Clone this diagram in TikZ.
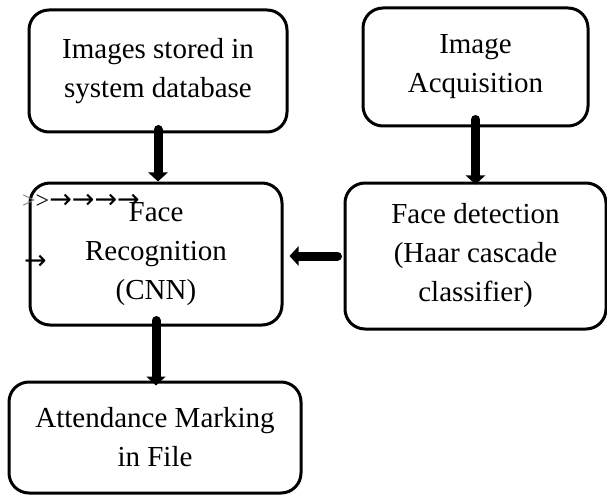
\documentclass[tikz,border=0pt]{standalone}
\usepackage{fontspec}
\setmainfont{Liberation Serif}
\newfontfamily\arrowfont{DejaVu Sans}
\usetikzlibrary{arrows.meta}
\begin{document}
\begin{tikzpicture}[x=1pt,y=-1pt,
  box/.style={draw=black, line width=3pt, rounded corners=20pt, fill=white,
    align=center, font=\fontsize{29}{39}\selectfont, inner sep=0pt},
  bigarrow/.style={line width=9pt, line cap=round,
    -{Triangle[width=19pt,length=9pt]}},
  glyph/.style={inner sep=0pt, font=\fontsize{24}{28}\selectfont}]
\useasboundingbox (0,0) rectangle (607,497);
\node[box, minimum width=258pt, minimum height=122pt] (db) at (158,71) {Images stored in\\system database};
\node[box, minimum width=225pt, minimum height=118pt] (acq) at (475.5,67) {Image\\Acquisition};
\node[box, minimum width=261pt, minimum height=146pt] (det) at (475.5,256) {Face detection\\(Haar cascade\\classifier)};
\node[box, minimum width=252pt, minimum height=142pt] (rec) at (156,254) {Face\\Recognition\\(CNN)};
\node[box, minimum width=292pt, minimum height=111pt] (att) at (155,437.5) {Attendance Marking\\in File};
\node[glyph, anchor=west] (marks1) at (22,201) {{\color{gray}>}>{\arrowfont\fontsize{27}{30}\selectfont →→→→}};
\node[glyph, anchor=west] (marks2) at (24,262) {\arrowfont\fontsize{27}{30}\selectfont →};
\draw[bigarrow] ([yshift=4pt]db.south) -- (db.south |- rec.north);
\draw[bigarrow] ([yshift=8pt]acq.south) -- ([yshift=-3pt]acq.south |- det.north);
\draw[bigarrow] ([xshift=-6pt]det.west) -- ([xshift=6pt]rec.east |- det.west);
\draw[bigarrow] ([yshift=6pt]rec.south) -- ([yshift=-5pt]rec.south |- att.north);
\end{tikzpicture}
\end{document}
